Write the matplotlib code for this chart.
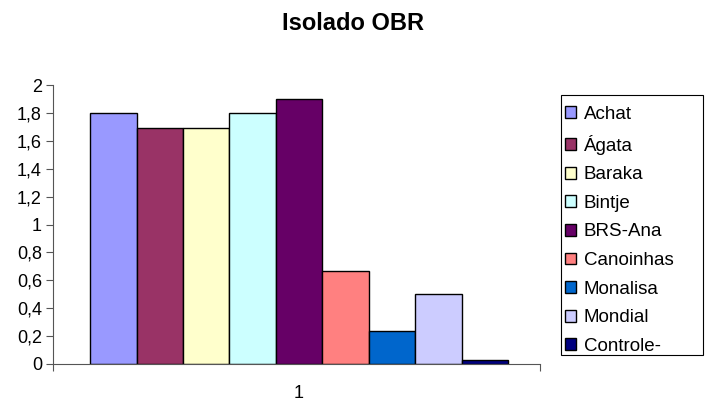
import matplotlib.pyplot as plt
from matplotlib.patches import Rectangle
import numpy as np

plt.rcParams['font.family'] = ['Liberation Sans', 'DejaVu Sans']

# cultivares e valores medios do isolado OBR
cultivares = ["Achat", "Ágata", "Baraka", "Bintje", "BRS-Ana",
              "Canoinhas", "Monalisa", "Mondial", "Controle-"]
valores = [1.8, 1.69, 1.69, 1.8, 1.9, 0.67, 0.24, 0.5, 0.03]
cores = ["#9999ff", "#993366", "#ffffcc", "#ccffff", "#660066",
         "#ff8080", "#0066cc", "#ccccff", "#000080"]
yticks = [0, 0.2, 0.4, 0.6, 0.8, 1, 1.2, 1.4, 1.6, 1.8, 2]
ytick_labels = ["0", "0,2", "0,4", "0,6", "0,8", "1", "1,2", "1,4", "1,6", "1,8", "2"]

W, H = 707, 403
fig = plt.figure(figsize=(W / 100, H / 100), dpi=100)
ax = fig.add_axes([53 / W, (H - 364) / H, 487 / W, (364 - 85) / H])

pos = np.arange(len(valores)) - (len(valores) - 1) / 2
handles = []
for x, v, c, nome in zip(pos, valores, cores, cultivares):
    b = ax.bar(x, v, width=1.0, color=c, edgecolor="black", linewidth=1.0,
               label=nome)
    handles.append(b)

ax.set_ylim(0, 2)
ax.set_xlim(-5.3, 5.19)
ax.set_yticks(yticks)
ax.set_yticklabels(ytick_labels, fontsize=13)
ax.tick_params(axis="y", direction="out", length=5, width=0.8, color="#555555", pad=3)

# eixo de categorias: marcas nas extremidades, rotulo "1" no centro
ax.set_xticks([-5.3, 5.19])
ax.set_xticklabels(["", ""])
ax.tick_params(axis="x", direction="out", length=5, width=0.8, color="#555555")
ax.text(0, -0.104, "1", ha="center", va="center", fontsize=13,
        transform=ax.get_xaxis_transform())

for s in ["top", "right"]:
    ax.spines[s].set_visible(False)
for s in ["left", "bottom"]:
    ax.spines[s].set_color("#555555")
    ax.spines[s].set_linewidth(0.8)

fig.text(0.5, 1 - 24 / H, "Isolado OBR", ha="center", va="center",
         fontsize=17, fontweight="bold")

# moldura da legenda
fig.patches.append(Rectangle((561 / W, 1 - 355 / H), 142 / W, 260 / H,
                             transform=fig.transFigure, fill=False,
                             edgecolor="black", linewidth=0.8))

leg = fig.legend(handles=handles, loc="upper left",
                 bbox_to_anchor=(565 / W, 1 - 106 / H), bbox_transform=fig.transFigure,
                 frameon=False, fontsize=13.5,
                 handlelength=0.6, handleheight=0.6, handletextpad=0.4,
                 labelspacing=0.62, borderpad=0, borderaxespad=0)

fig.savefig("out.png", dpi=100)
